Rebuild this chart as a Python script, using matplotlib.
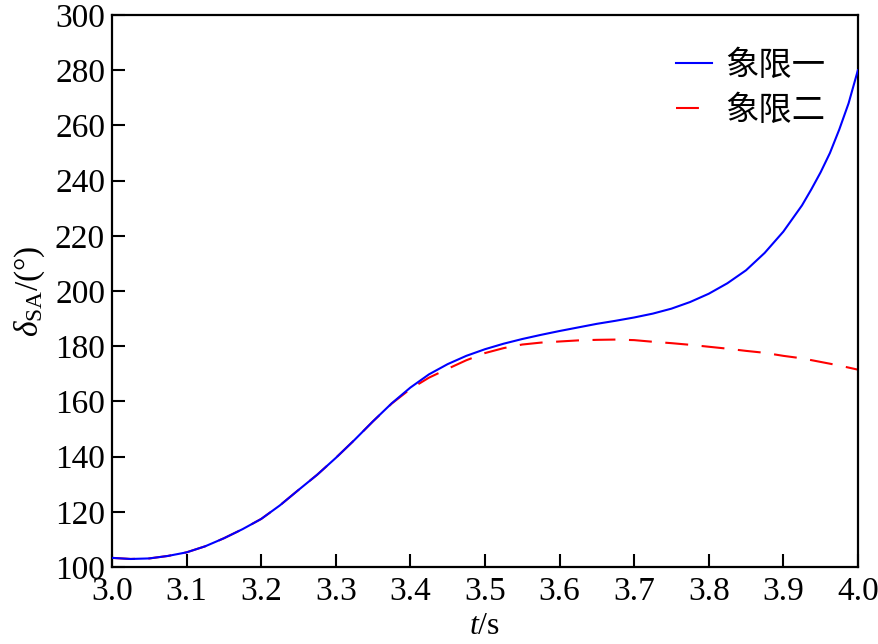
import matplotlib
matplotlib.use("Agg")
import matplotlib.pyplot as plt

# Data
t_blue = [3.000, 3.025, 3.050, 3.075, 3.100, 3.125, 3.150, 3.175, 3.200, 3.225, 3.250,
          3.275, 3.300, 3.325, 3.350, 3.375, 3.400, 3.425, 3.450, 3.475, 3.500, 3.525,
          3.550, 3.575, 3.600, 3.625, 3.650, 3.675, 3.700, 3.725, 3.750, 3.775, 3.800,
          3.825, 3.850, 3.875, 3.900, 3.925, 3.9375, 3.950, 3.9625, 3.975, 3.9875, 4.000]
y_blue = [103.3, 102.9, 103.1, 104.0, 105.3, 107.5, 110.4, 113.7, 117.4, 122.3, 127.9,
          133.4, 139.5, 146.0, 152.8, 159.3, 165.0, 169.8, 173.5, 176.5, 178.9, 180.9,
          182.6, 184.1, 185.5, 186.8, 188.1, 189.2, 190.4, 191.8, 193.6, 196.0, 199.0,
          202.8, 207.5, 213.8, 221.5, 231.0, 236.8, 243.0, 250.0, 258.5, 268.0, 280.0]

t_red = [3.000, 3.025, 3.050, 3.075, 3.100, 3.125, 3.150, 3.175, 3.200, 3.225, 3.250,
         3.275, 3.300, 3.325, 3.350, 3.375, 3.400, 3.425, 3.450, 3.475, 3.500, 3.525,
         3.550, 3.575, 3.600, 3.625, 3.650, 3.675, 3.700, 3.725, 3.750, 3.775, 3.800,
         3.825, 3.850, 3.875, 3.900, 3.925, 3.950, 3.975, 4.000]
y_red = [103.3, 102.9, 103.1, 104.0, 105.3, 107.5, 110.4, 113.7, 117.4, 122.3, 127.9,
         133.4, 139.5, 146.0, 152.8, 159.2, 164.5, 168.6, 171.8, 174.9, 177.5, 179.3,
         180.6, 181.3, 181.7, 182.1, 182.3, 182.4, 182.2, 181.6, 181.1, 180.5, 179.8,
         179.1, 178.3, 177.6, 176.5, 175.6, 174.3, 173.0, 171.5]

labels = ["象限一", "象限二"]
xticks = [3.0, 3.1, 3.2, 3.3, 3.4, 3.5, 3.6, 3.7, 3.8, 3.9, 4.0]
yticks = [100, 120, 140, 160, 180, 200, 220, 240, 260, 280, 300]

plt.rcParams['font.family'] = ['Liberation Serif', 'Noto Sans CJK SC']
plt.rcParams['mathtext.fontset'] = 'custom'
plt.rcParams['mathtext.rm'] = 'Liberation Serif'
plt.rcParams['mathtext.it'] = 'Liberation Serif:italic'

fig = plt.figure(figsize=(8.79, 6.44), dpi=100)
ax = fig.add_axes([0.1274, 0.1196, 0.8486, 0.8571])

l2, = ax.plot(t_red, y_red, color='#ff0000', lw=1.5, ls=(0, (11, 6.5)), zorder=2, label=labels[1])
l1, = ax.plot(t_blue, y_blue, color='#0000ff', lw=1.5, zorder=3, label=labels[0])

ax.set_xlim(3.0, 4.0)
ax.set_ylim(100, 300)
ax.set_xticks(xticks)
ax.set_yticks(yticks)
ax.set_xticklabels([f"{v:.1f}" for v in xticks])
ax.set_yticklabels([str(v) for v in yticks])
ax.tick_params(direction='in', length=9.5, width=1.5, labelsize=24, top=False, right=False)
ax.tick_params(axis='x', pad=7)
ax.tick_params(axis='y', pad=5)
for s in ax.spines.values():
    s.set_linewidth(1.6)

ax.set_xlabel(r'$t$/s', fontsize=23)
ax.xaxis.set_label_coords(0.5, -0.082)
ax.set_ylabel(r'$\delta_{\mathrm{SA}}$/(°)', fontsize=24, labelpad=6)

leg = ax.legend([l1, l2], labels, loc='upper right', bbox_to_anchor=(0.997, 0.995),
                frameon=False, handlelength=1.1, handletextpad=0.4, labelspacing=0.3,
                prop={'family': ['Noto Sans CJK SC'], 'size': 24})

fig.savefig('out.png', dpi=100)
